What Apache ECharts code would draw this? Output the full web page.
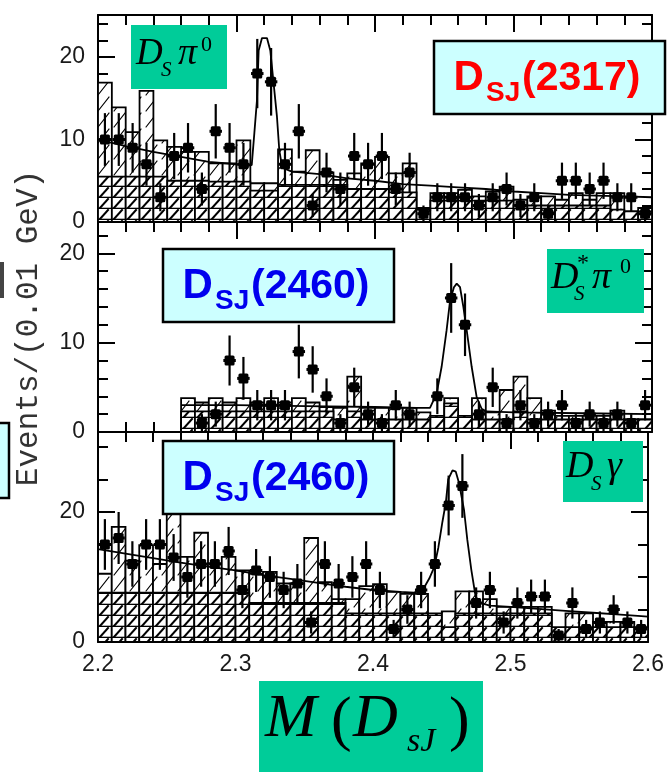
<!DOCTYPE html>
<html>
<head>
<meta charset="utf-8">
<script src="https://cdn.jsdelivr.net/npm/echarts@6/dist/echarts.min.js"></script>
<style>
html,body{margin:0;padding:0;background:#fff;}
#chart{width:667px;height:772px;}
</style>
</head>
<body>
<div id="chart"></div>
<script>
// ---------------- DATA ----------------
const binWidth = 0.01;
const binCenters = [2.205,2.215,2.225,2.235,2.245,2.255,2.265,2.275,2.285,2.295,
                    2.305,2.315,2.325,2.335,2.345,2.355,2.365,2.375,2.385,2.395,
                    2.405,2.415,2.425,2.435,2.445,2.455,2.465,2.475,2.485,2.495,
                    2.505,2.515,2.525,2.535,2.545,2.555,2.565,2.575,2.585,2.595];
const xTicks = ['2.2','2.3','2.4','2.5','2.6'];

// Panel 1: Ds pi0  (DsJ(2317))
const p1Counts = [10,10,9,7,3,8,9,4,11,9,7,18,17,7,11,2,6,4,8,7,8,4,6,1,3,3,3,2,3,4,2,3,1,5,5,4,5,3,3,1];
const p1Errors = [3.2,3.2,3.0,2.6,1.7,2.8,3.0,2.0,3.3,3.0,2.6,4.2,4.1,2.6,3.3,1.4,2.4,2.0,2.8,2.6,2.8,2.0,2.4,1.0,1.7,1.7,1.7,1.4,1.7,2.0,1.4,1.7,1.0,2.2,2.2,2.0,2.2,1.7,1.7,1.0];
const p1Upper  = [16.9,13.9,10.9,15.9,9.9,9.1,8.5,8.5,7.1,7.1,9.9,4.7,4.7,8.8,6.1,8.7,6.0,5.1,5.9,7.1,7.9,5.9,7.1,1.7,3.5,3.5,3.9,3.1,3.7,4.3,2.7,3.1,3.1,2.7,3.5,2.7,3.5,3.5,1.3,1.7];
const p1Lower  = [5.5,5.5,5.5,5.5,5.5,5.0,5.0,5.0,4.9,4.9,4.9,3.8,3.8,4.5,4.5,4.5,4.5,4.5,4.0,4.0,4.0,3.6,3.6,1.5,2.6,2.6,2.6,2.6,2.6,2.6,2.0,2.0,2.0,2.0,2.0,2.0,2.0,1.5,1.3,1.3];
const p1FitX = [2.2,2.22,2.24,2.26,2.28,2.30,2.311,2.3129,2.3148,2.316,2.3184,2.322,2.3244,2.3268,2.3292,2.3309,2.333,2.34,2.36,2.38,2.40,2.42,2.44,2.46,2.48,2.50,2.52,2.54,2.56,2.58,2.60];
const p1FitY = [10.0,9.2,8.5,7.9,7.3,7.0,6.9,10.8,14.8,20.8,22.3,22.3,20.8,16.8,12.8,8.7,6.6,6.1,5.8,5.3,5.0,4.6,4.4,4.2,4.0,3.7,3.5,3.3,3.2,3.1,3.0];

// Panel 2: Ds* pi0  (DsJ(2460))
const p2Counts = [null,null,null,null,null,null,null,1,2,8,6,3,3,3,9,7,4,1,5,2,1,3,2,null,4,15,12,2,5,1,3,1,2,3,1,2,1,2,1,3];
const p2Errors = [null,null,null,null,null,null,null,1.0,1.4,2.8,2.4,1.7,1.7,1.7,3.0,2.6,2.0,1.0,2.2,1.4,1.0,1.7,1.4,null,2.0,3.9,3.5,1.4,2.2,1.0,1.7,1.0,1.4,1.7,1.0,1.4,1.0,1.4,1.0,1.7];
const p2Upper  = [null,null,null,null,null,null,3.8,3.3,3.8,3.3,3.8,3.3,3.8,3.3,3.8,3.3,2.8,2.7,6.2,2.7,2.7,2.7,2.7,2.2,1.8,3.8,1.8,3.8,2.2,4.7,6.2,3.8,2.4,1.8,1.8,1.8,1.8,2.4,1.4,1.4];
const p2Lower  = [null,null,null,null,null,null,2.3,2.3,2.3,2.3,2.3,2.3,2.3,2.3,2.3,2.3,2.3,1.4,2.3,1.4,1.4,1.4,1.4,1.4,1.8,3.2,1.8,1.4,1.4,1.4,2.3,1.4,1.4,1.4,1.4,1.4,1.4,1.4,1.4,1.4];
const p2FitX = [2.26,2.30,2.35,2.40,2.43,2.4397,2.4445,2.4481,2.4517,2.4542,2.457,2.459,2.4614,2.4638,2.4662,2.4698,2.4734,2.477,2.4806,2.50,2.55,2.60];
const p2FitY = [3.0,3.0,2.9,2.8,2.7,2.7,4.3,7.3,11.4,14.7,16.2,16.6,16.2,14.0,11.4,7.3,3.9,2.6,2.3,2.2,2.1,2.0];

// Panel 3: Ds gamma  (DsJ(2460))
const p3Counts = [15,16,12,15,15,13,10,12,12,14,8,11,10,8,9,3,12,9,10,12,8,2,5,8,12,21,24,6,8,3,6,7,7,1,6,2,3,5,3,2];
const p3Errors = [3.9,4.0,3.5,3.9,3.9,3.6,3.2,3.5,3.5,3.7,2.8,3.3,3.2,2.8,3.0,1.7,3.5,3.0,3.2,3.5,2.8,1.4,2.2,2.8,3.5,4.6,4.9,2.4,2.8,1.7,2.4,2.6,2.6,1.0,2.4,1.4,1.7,2.2,1.7,1.4];
const p3Upper  = [10.5,17.7,12.5,14.9,12.0,20.0,13.1,16.8,12.1,13.1,11.0,10.5,10.8,9.0,9.0,16.0,9.2,6.6,6.6,8.6,8.9,7.7,7.4,7.4,4.3,4.7,7.8,7.8,6.6,5.4,5.4,5.4,5.4,1.5,4.4,4.4,3.1,3.1,3.1,2.2];
const p3Lower  = [7.6,7.6,7.6,7.6,7.6,7.6,7.6,7.6,7.6,7.6,7.6,6.0,6.0,6.0,6.0,6.0,6.0,6.0,4.4,4.4,4.4,4.4,4.4,4.4,4.4,2.3,4.4,4.4,4.4,4.4,4.4,4.4,4.4,2.3,2.3,2.3,2.3,2.3,2.3,2.3];
const p3FitX = [2.2,2.22,2.24,2.26,2.28,2.30,2.32,2.34,2.36,2.38,2.40,2.42,2.43,2.437,2.441,2.4445,2.4475,2.4505,2.453,2.4547,2.4578,2.4602,2.4626,2.4662,2.4686,2.4715,2.4746,2.478,2.485,2.50,2.52,2.54,2.56,2.58,2.60];
const p3FitY = [14.3,13.6,12.9,12.2,11.6,11.0,10.3,9.7,9.1,8.5,8.0,7.7,7.6,8.3,9.8,11.5,14.5,18.5,21.5,25.0,26.4,26.2,24.4,20.3,15.7,11.1,7.0,6.0,5.6,5.4,5.1,4.8,4.5,4.2,3.9];

// ---------------- HELPERS ----------------
// brick-like hatch: short diagonal in each tile, optional horizontal rule
function hatch(w, h, lw, rule, dx) {
  const c = document.createElement('canvas');
  c.width = w; c.height = h;
  const ctx = c.getContext('2d');
  ctx.fillStyle = '#fff'; ctx.fillRect(0, 0, w, h);
  ctx.strokeStyle = '#000'; ctx.lineCap = 'square';
  ctx.lineWidth = lw;
  ctx.beginPath();
  ctx.moveTo(2, h - 1); ctx.lineTo(2 + dx, 1);
  ctx.stroke();
  if (rule > 0) {
    ctx.lineWidth = rule;
    ctx.beginPath(); ctx.moveTo(0, h - rule / 2); ctx.lineTo(w, h - rule / 2); ctx.stroke();
  }
  return c;
}
const patUpper = { image: hatch(16, 16, 1.1, 0, 11), repeat: 'repeat' };
const patLower = { image: hatch(14, 11, 2.0, 1.3, 8), repeat: 'repeat' };

function histData(vals) {
  const out = [];
  vals.forEach((v, i) => { if (v != null) out.push([binCenters[i], v]); });
  return out;
}
function pointData(vals, errs) {
  const out = [];
  vals.forEach((v, i) => { if (v != null) out.push([binCenters[i], v, errs[i]]); });
  return out;
}
function pairs(xs, ys) { return xs.map((x, i) => [x, ys[i]]); }

function histSeries(g, vals, pat, z) {
  return {
    type: 'custom', xAxisIndex: g, yAxisIndex: g, z: z, clip: true, silent: true,
    data: histData(vals),
    renderItem: function (params, api) {
      const x = api.value(0), v = api.value(1);
      const a = api.coord([x - binWidth / 2, v]);
      const b = api.coord([x + binWidth / 2, 0]);
      return { type: 'rect', shape: { x: a[0], y: a[1], width: b[0] - a[0], height: b[1] - a[1] },
               style: { fill: pat, stroke: '#000', lineWidth: 1.8 } };
    }
  };
}
function pointSeries(g, vals, errs) {
  return {
    type: 'custom', xAxisIndex: g, yAxisIndex: g, z: 10, clip: true, silent: true,
    data: pointData(vals, errs),
    renderItem: function (params, api) {
      const x = api.value(0), v = api.value(1), e = api.value(2);
      const c = api.coord([x, v]);
      const t = api.coord([x, v + e]);
      const bt = api.coord([x, Math.max(v - e, 0)]);
      const l = api.coord([x - binWidth * 0.45, v]);
      const r = api.coord([x + binWidth * 0.45, v]);
      return { type: 'group', children: [
        { type: 'line', shape: { x1: c[0], y1: t[1], x2: c[0], y2: bt[1] }, style: { stroke: '#000', lineWidth: 2.2 } },
        { type: 'line', shape: { x1: l[0], y1: c[1], x2: r[0], y2: c[1] }, style: { stroke: '#000', lineWidth: 3 } },
        { type: 'rect', shape: { x: c[0] - 5, y: c[1] - 5, width: 10, height: 10, r: 1.5 }, style: { fill: '#000' } }
      ]};
    }
  };
}
function fitSeries(g, xs, ys) {
  return { type: 'line', xAxisIndex: g, yAxisIndex: g, z: 8, silent: true, symbol: 'none', showSymbol: false,
           data: pairs(xs, ys), lineStyle: { color: '#000', width: 1.8 }, clip: true, animation: false };
}

const grids = [
  { left: 98, width: 554, top: 15, height: 207 },
  { left: 98, width: 554, top: 222, height: 210 },
  { left: 98, width: 554, top: 432, height: 210 }
];
const yMax = [25.1, 23.5, 32.3];
const yInt = [10, 10, 20];
const ySplit = [5, 5, 4];

const lineSt = { color: '#000', width: 2 };
const labelFont = { fontSize: 23, color: '#1a1a1a', fontFamily: 'Liberation Sans' };

function xAxisFor(g, pos) {
  return {
    type: 'value', gridIndex: g, position: pos, min: 2.2, max: 2.6, interval: 0.1,
    axisLine: { show: true, onZero: false, lineStyle: lineSt },
    axisTick: { show: true, inside: true, length: 17, lineStyle: lineSt },
    minorTick: { show: true, splitNumber: 5, length: 10, lineStyle: lineSt },
    splitLine: { show: false }, minorSplitLine: { show: false },
    axisLabel: (g === 2 && pos === 'bottom') ? Object.assign({ show: true, margin: 11,
      formatter: function (v) { const s = v.toFixed(1); return xTicks.indexOf(s) >= 0 ? s : ''; } }, labelFont) : { show: false }
  };
}
function yAxisFor(g, pos) {
  return {
    type: 'value', gridIndex: g, position: pos, min: 0, max: yMax[g], interval: yInt[g],
    axisLine: { show: true, onZero: false, lineStyle: lineSt },
    axisTick: { show: true, inside: true, length: 17, lineStyle: lineSt },
    minorTick: { show: true, splitNumber: ySplit[g], length: 10, lineStyle: lineSt },
    splitLine: { show: false }, minorSplitLine: { show: false },
    axisLabel: pos === 'left' ? Object.assign({ show: true, margin: 13, showMaxLabel: false }, labelFont) : { show: false }
  };
}

// ---------------- LABEL GRAPHICS ----------------
function txt(str, x, base, size, o) {
  o = o || {};
  const font = (o.italic ? 'italic ' : '') + (o.bold ? 'bold ' : '') + size + 'px ' + (o.family || '"Liberation Serif"');
  return { type: 'text', x: x, y: base - 0.34 * size, z: 100, silent: true,
           style: { text: str, font: font, fill: o.color || '#000', align: 'left', textAlign: 'left',
                    verticalAlign: 'middle', textVerticalAlign: 'middle' } };
}
function box(x, y, w, h, fill, stroke) {
  return { type: 'rect', z: 99, silent: true, shape: { x: x, y: y, width: w, height: h },
           style: { fill: fill, stroke: stroke || null, lineWidth: stroke ? 2.5 : 0 } };
}
const GREEN = '#00cc99', CYAN = '#ccffff';
function dsjLabel(x, y, name, color) {
  return [
    box(x, y, 231, 73, CYAN, '#000'),
    txt('D', x + 19.5, y + 52, 42, { bold: true, color: color, family: '"Liberation Sans"' }),
    txt('SJ', x + 52, y + 62, 28, { bold: true, color: color, family: '"Liberation Sans"' }),
    txt(name, x + 88, y + 52, 41, { bold: true, color: color, family: '"Liberation Sans"' })
  ];
}

const graphics = [].concat(
  // y axis title and stray slide elements
  [{ type: 'text', x: 29, y: 328, rotation: Math.PI / 2, z: 50, silent: true,
     style: { text: 'Events/(0.01 GeV)', font: '31px "Liberation Mono"', fill: '#333',
              align: 'center', textAlign: 'center', verticalAlign: 'middle', textVerticalAlign: 'middle' } },
   { type: 'rect', z: 50, silent: true, shape: { x: 0, y: 262, width: 4, height: 36 }, style: { fill: '#444' } },
   box(-10, 423, 19, 75, CYAN, '#000'),
   { type: 'text', x: 372, y: 710, z: 50, silent: true,
     style: { text: 'M(Dsγ) (GeV/c²)', font: '21px "Liberation Mono"', fill: '#333',
              align: 'center', textAlign: 'center', verticalAlign: 'middle', textVerticalAlign: 'middle' } }],
  // panel 1 labels
  [box(131, 25, 96, 64, GREEN),
   txt('D', 136, 67, 37, { italic: true }),
   txt('S', 161, 78, 21, { italic: true }),
   txt('π', 178, 67, 38, { italic: true }),
   txt('0', 201, 53, 22)],
  dsjLabel(434, 41, '(2317)', '#ff0000'),
  // panel 2 labels
  dsjLabel(163, 249, '(2460)', '#0000ee'),
  [box(547, 249, 97, 64, GREEN),
   txt('D', 551, 291, 38, { italic: true }),
   txt('*', 577, 272, 24, {}),
   txt('S', 574, 302, 21, { italic: true }),
   txt('π', 592, 291, 38, { italic: true }),
   txt('0', 620, 275, 22)],
  // panel 3 labels
  dsjLabel(163, 441, '(2460)', '#0000ee'),
  [box(563, 441, 80, 61, GREEN),
   txt('D', 566, 480, 38, { italic: true }),
   txt('S', 591, 492, 21, { italic: true }),
   txt('γ', 607, 480, 38, { italic: true })],
  // bottom axis title box
  [box(259, 681, 224, 91, GREEN),
   txt('M', 265, 741, 62, { italic: true }),
   txt('(', 331, 744, 62, {}),
   txt('D', 353, 741, 62, { italic: true }),
   txt('sJ', 407, 754, 34, { italic: true }),
   txt(')', 449, 744, 62, {})]
);

// ---------------- CHART ----------------
const chart = echarts.init(document.getElementById('chart'), null, { renderer: 'canvas' });
chart.setOption({
  animation: false,
  backgroundColor: '#fff',
  grid: grids,
  xAxis: [xAxisFor(0, 'bottom'), xAxisFor(1, 'bottom'), xAxisFor(2, 'bottom'),
          xAxisFor(0, 'top'), xAxisFor(1, 'top'), xAxisFor(2, 'top')],
  yAxis: [yAxisFor(0, 'left'), yAxisFor(1, 'left'), yAxisFor(2, 'left'),
          yAxisFor(0, 'right'), yAxisFor(1, 'right'), yAxisFor(2, 'right')],
  series: [
    histSeries(0, p1Upper, patUpper, 2), histSeries(0, p1Lower, patLower, 3),
    fitSeries(0, p1FitX, p1FitY), pointSeries(0, p1Counts, p1Errors),
    histSeries(1, p2Upper, patUpper, 2), histSeries(1, p2Lower, patLower, 3),
    fitSeries(1, p2FitX, p2FitY), pointSeries(1, p2Counts, p2Errors),
    histSeries(2, p3Upper, patUpper, 2), histSeries(2, p3Lower, patLower, 3),
    fitSeries(2, p3FitX, p3FitY), pointSeries(2, p3Counts, p3Errors)
  ],
  graphic: graphics
});
</script>
</body>
</html>
